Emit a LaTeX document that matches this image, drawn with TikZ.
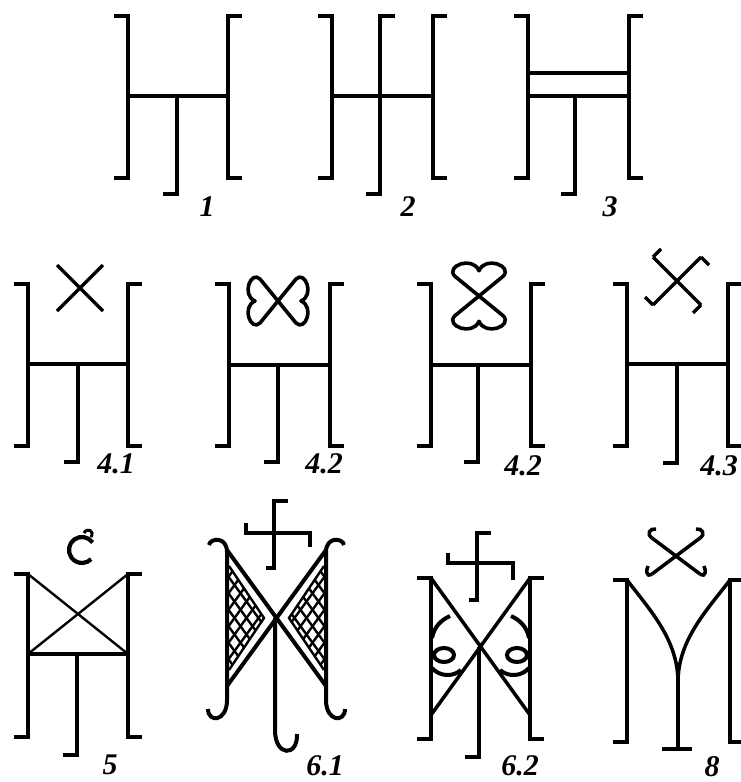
\documentclass[tikz,border=0pt]{standalone}
\usepackage{fontspec}
\setmainfont{Liberation Serif}
\newcommand{\HLeft}[4]{% x, ytop, ybot, serif
  \draw (#1-#4,#2) -- (#1,#2) -- (#1,#3) -- (#1-#4,#3);}
\newcommand{\HRight}[4]{%
  \draw (#1+#4,#2) -- (#1,#2) -- (#1,#3) -- (#1+#4,#3);}
\newcommand{\HStem}[3]{% x, ytop, ybot
  \draw (#1,#2) -- (#1,#3) -- (#1-14,#3);}
\newcommand{\HeartL}{%
  \draw[heart] (0,0) -- (-18,-22) .. controls (-27,-31) and (-37,-6) .. (-23,0)
     .. controls (-37,6) and (-27,31) .. (-18,22) -- cycle;}
\newcommand{\HalfSixOne}{%
  \draw (209,545) .. controls (210,538) and (227,536) .. (227,552) -- (227,700)
     .. controls (227,722) and (208,723) .. (208,709);
  \draw (227,550) -- (276.5,618);
  \draw (276.5,618) -- (227,686);
  \draw[thinl] (229,566) -- (264,618) -- (229,670);
  \begin{scope}
    \clip (229,566) -- (264,618) -- (229,670) -- cycle;
    \foreach \k in {-6,...,6} {
      \draw[thinl] ({\k*12+197},550) -- ({\k*12+296},686);
      \draw[thinl] ({\k*12+197},686) -- ({\k*12+296},550);
    }
  \end{scope}}
\newcommand{\HalfSixTwo}{%
  \draw (450,616) .. controls (441,620) and (434,627) .. (432,638);
  \draw (444,655) ellipse [x radius=10, y radius=7];
  \draw (432,668) .. controls (440,677) and (453,677) .. (461,670);}
\begin{document}
\begin{tikzpicture}[x=1pt,y=-1pt,line width=4pt,line join=miter,
  lbl/.style={font=\fontsize{30}{32}\selectfont\bfseries\itshape,inner sep=0pt},
  thinl/.style={line width=2.4pt},
  mid/.style={line width=3.5pt},
  heart/.style={line width=3.6pt,line join=round}]
\useasboundingbox[fill=white] (0,0) rectangle (741,782);

% ---------- row 1 ----------
% fig 1
\HLeft{128}{16}{178}{14}
\HRight{228}{16}{178}{14}
\draw[mid] (128,96) -- (228,96);
\HStem{177}{96}{194}
\node[lbl] (l1) at (207,207) {1};
% fig 2
\HLeft{332}{16}{178}{14}
\HRight{433}{16}{178}{14}
\draw[mid] (332,96) -- (433,96);
\draw (395,16) -- (380,16) -- (380,194) -- (366,194);
\node[lbl] (l2) at (408,207) {2};
% fig 3
\HLeft{528}{16}{178}{14}
\HRight{629}{16}{178}{14}
\draw[mid] (528,73) -- (629,73);
\draw[mid] (528,96) -- (629,96);
\HStem{575}{96}{194}
\node[lbl] (l3) at (610,207) {3};

% ---------- row 2 ----------
% fig 4.1
\HLeft{28}{284}{446}{14}
\HRight{128}{284}{446}{14}
\draw[mid] (28,364) -- (128,364);
\HStem{78}{364}{462}
\draw[mid] (57,265) -- (103,311) (57,311) -- (103,265);
\node[lbl] (l41) at (116,464) {4.1};
% fig 4.2 (a)
\HLeft{229}{284}{446}{14}
\HRight{330}{284}{446}{14}
\draw[mid] (229,365) -- (330,365);
\HStem{278}{365}{462}
\begin{scope}[shift={(278,301)}]
  \HeartL
  \begin{scope}[xscale=-1]\HeartL\end{scope}
\end{scope}
\node[lbl] (l42a) at (324,464) {4.2};
% fig 4.2 (b)
\HLeft{431}{284}{446}{14}
\HRight{531}{284}{446}{14}
\draw[mid] (431,365) -- (531,365);
\HStem{478}{365}{462}
\begin{scope}[shift={(479,296)},scale=1.1]
  \begin{scope}[rotate=90]\HeartL\end{scope}
  \begin{scope}[rotate=-90]\HeartL\end{scope}
\end{scope}
\node[lbl] (l42b) at (523,466) {4.2};
% fig 4.3
\HLeft{627}{284}{446}{14}
\HRight{728}{284}{446}{14}
\draw[mid] (627,364) -- (728,364);
\HStem{677}{364}{463}
\begin{scope}[shift={(677,281)}]
  \draw[mid] (-24,-24) -- (24,24) (24,-24) -- (-24,24);
  \draw[mid] (-24,-24) -- ++(8,-8);
  \draw[mid] (24,-24) -- ++(8,8);
  \draw[mid] (24,24) -- ++(-8,8);
  \draw[mid] (-24,24) -- ++(-8,-8);
\end{scope}
\node[lbl] (l43) at (719,466) {4.3};

% ---------- row 3 ----------
% fig 5
\HLeft{28}{574}{737}{14}
\HRight{128}{574}{737}{14}
\draw[mid] (28,654) -- (128,654);
\draw[thinl] (28,574) -- (128,654) (128,574) -- (28,654);
\HStem{77}{654}{755}
\draw[line width=4.2pt] (92.6,542.5) arc (-35:-315:13);
\draw[line width=3pt] (91,537) .. controls (95,531) and (87,527) .. (84,533);
\node[lbl] (l5) at (110,765) {5};
% fig 6.1
\HalfSixOne
\begin{scope}[shift={(553,0)},xscale=-1]\HalfSixOne\end{scope}
\draw (275,618) -- (275,730) .. controls (275,757) and (298,757) .. (297,734);
\begin{scope}[shift={(274,533)}]
  \draw[mid] (14,-32) -- (0,-32) -- (0,35) -- (-8,35);
  \draw[mid] (-28,-10) -- (-28,0) -- (36,0) -- (36,14);
\end{scope}
\node[lbl] (l61) at (325,766) {6.1};
% fig 6.2
\HLeft{431}{578}{739}{14}
\HRight{530}{578}{739}{14}
\draw[mid] (431,578) -- (530,715) (530,578) -- (431,715);
\draw (479,647) -- (479,757) -- (465,757);
\HalfSixTwo
\begin{scope}[shift={(961,0)},xscale=-1]\HalfSixTwo\end{scope}
\begin{scope}[shift={(477,563)}]
  \draw[mid] (14,-30) -- (0,-30) -- (0,37) -- (-8,37);
  \draw[mid] (-29,-10) -- (-29,0) -- (36,0) -- (36,17);
\end{scope}
\node[lbl] (l62) at (520,766) {6.2};
% fig 8
\HLeft{627}{580}{742}{14}
\HRight{730}{580}{742}{14}
\draw[mid] (627,580) .. controls (650,610) and (678,640) .. (678,682);
\draw[mid] (730,580) .. controls (707,610) and (678,640) .. (678,682);
\draw (678,680) -- (678,749);
\draw (662,749) -- (692,749);
\begin{scope}[shift={(676,556)}]
  \draw[mid] (-24,-18) -- (24,18) (24,-18) -- (-24,18);
  \draw[mid] (-24,-18) .. controls (-30,-22) and (-26,-28) .. (-20,-27);
  \draw[mid] (24,-18) .. controls (30,-22) and (26,-28) .. (20,-27);
  \draw[mid] (-24,18) .. controls (-30,22) and (-30,14) .. (-28,10);
  \draw[mid] (24,18) .. controls (30,22) and (30,14) .. (28,10);
\end{scope}
\node[lbl] (l8) at (712,767) {8};
\end{tikzpicture}
\end{document}
